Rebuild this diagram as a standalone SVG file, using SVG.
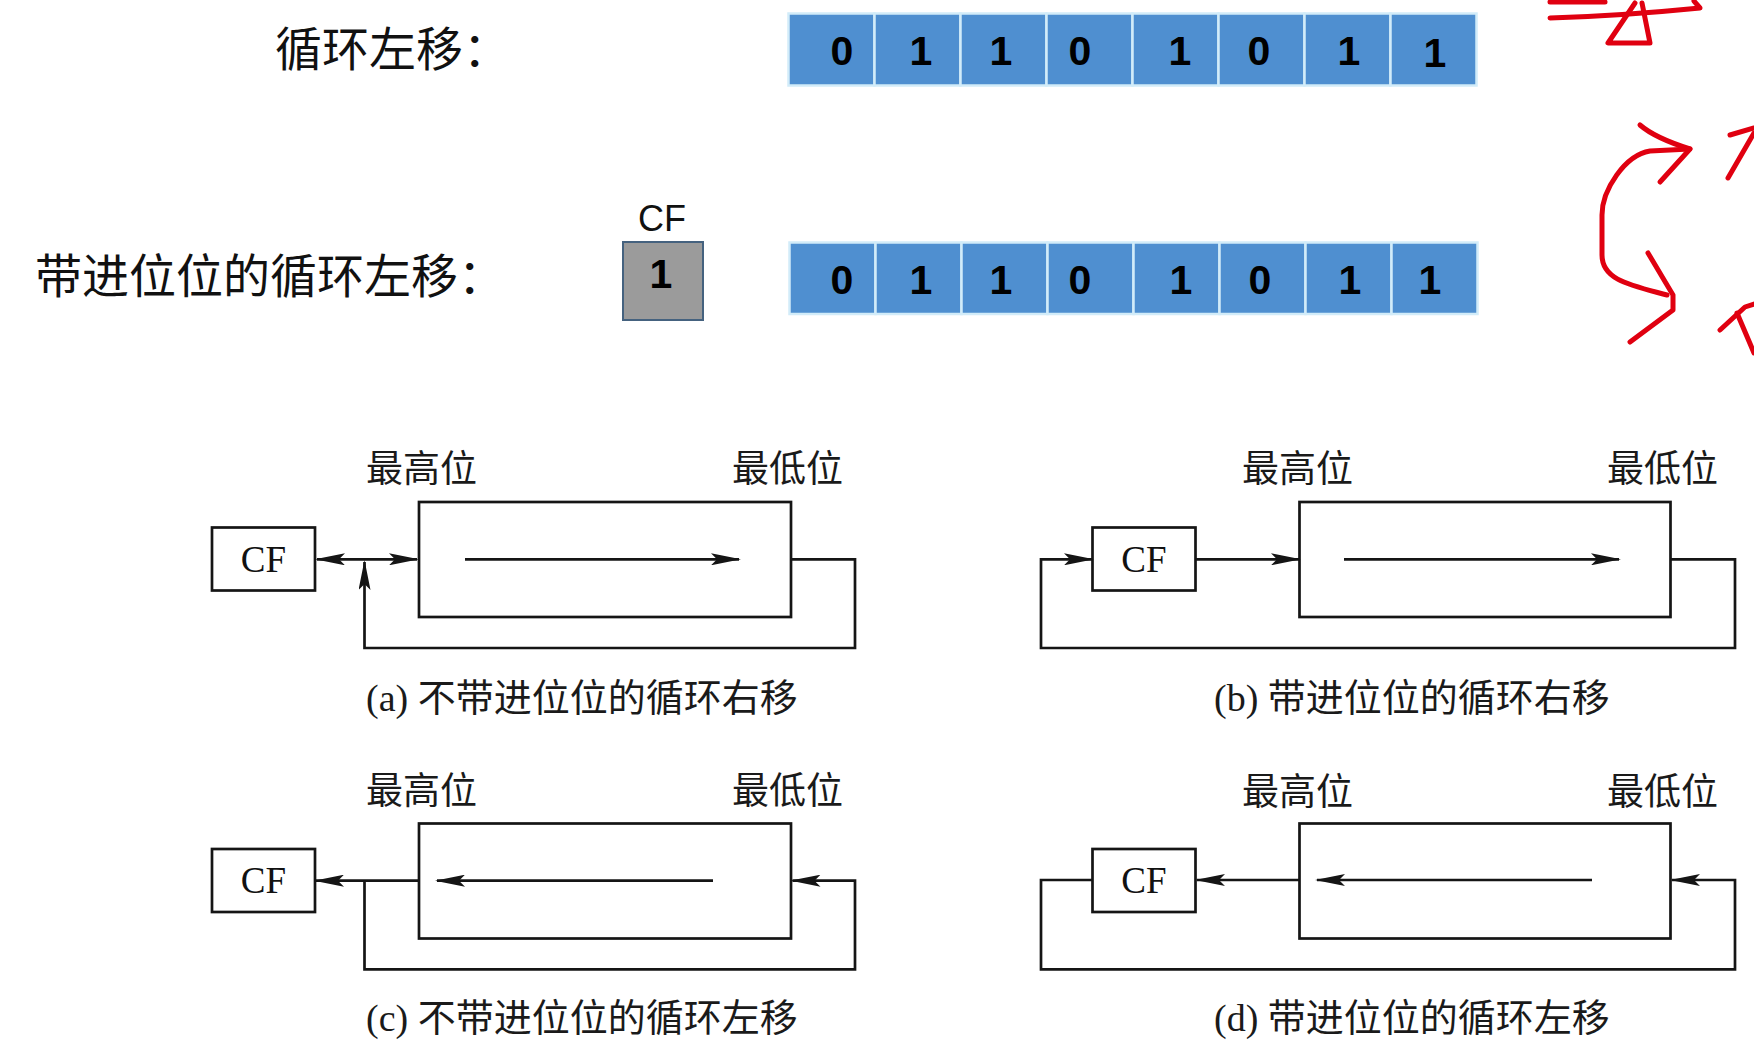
<svg xmlns="http://www.w3.org/2000/svg" width="1754" height="1048" viewBox="0 0 1754 1048">
<style>
  .lbl { font-family: "Noto Sans CJK SC", "Liberation Sans", sans-serif; font-size: 47px; fill: #111; }
  .cell { fill: #4F8FD0; stroke: #D2ECF9; stroke-width: 2.5; }
  .digit { font-family: "Liberation Sans", "Noto Sans", sans-serif; font-weight: bold; font-size: 41px; fill: #000; text-anchor: middle; }
  .box { fill: #fff; stroke: #151515; stroke-width: 2.7; }
  .cf { font-family: "Liberation Serif", serif; font-size: 37px; fill: #111; text-anchor: middle; }
  .cap { font-family: "Liberation Serif", "Noto Sans CJK SC", serif; font-size: 38px; fill: #1a1a1a; }
  .pos { font-family: "Noto Sans CJK SC", sans-serif; font-size: 37px; fill: #1a1a1a; }
  .wire { fill: none; stroke: #151515; stroke-width: 2.7; }
  .red { fill: none; stroke: #E00010; stroke-width: 5; stroke-linecap: round; stroke-linejoin: round; }
</style>
<defs>
  <marker id="ah" markerUnits="userSpaceOnUse" markerWidth="30" markerHeight="12" viewBox="0 0 30 12" refX="28" refY="6" orient="auto-start-reverse">
    <path d="M0,0 L30,6 L0,12 L6,6 Z" fill="#151515"/>
  </marker>
</defs>
<rect width="1754" height="1048" fill="#fff"/>

<g id="row1">
  <text class="lbl" x="275" y="66">循环左移：</text>
  <rect class="cell" x="788.5" y="13.5" width="86" height="72"/>
  <rect class="cell" x="874.5" y="13.5" width="86" height="72"/>
  <rect class="cell" x="960.5" y="13.5" width="86" height="72"/>
  <rect class="cell" x="1046.5" y="13.5" width="86" height="72"/>
  <rect class="cell" x="1132.5" y="13.5" width="86" height="72"/>
  <rect class="cell" x="1218.5" y="13.5" width="86" height="72"/>
  <rect class="cell" x="1304.5" y="13.5" width="86" height="72"/>
  <rect class="cell" x="1390.5" y="13.5" width="86" height="72"/>
  <text class="digit" x="842" y="64.5">0</text>
  <text class="digit" x="921" y="64.5">1</text>
  <text class="digit" x="1001" y="64.5">1</text>
  <text class="digit" x="1080" y="64.5">0</text>
  <text class="digit" x="1180" y="64.5">1</text>
  <text class="digit" x="1259" y="64.5">0</text>
  <text class="digit" x="1349" y="64.5">1</text>
  <text class="digit" x="1435" y="67">1</text>
</g>

<g id="row2">
  <text class="lbl" x="35" y="293">带进位位的循环左移：</text>
  <text x="662" y="231" font-family="Liberation Sans, sans-serif" font-size="36" fill="#111" text-anchor="middle">CF</text>
  <rect x="623" y="242" width="80" height="78" fill="#9B9B9B" stroke="#45627F" stroke-width="2"/>
  <text class="digit" x="661" y="288">1</text>
  <rect class="cell" x="789.5" y="242.5" width="86" height="71.5"/>
  <rect class="cell" x="875.5" y="242.5" width="86" height="71.5"/>
  <rect class="cell" x="961.5" y="242.5" width="86" height="71.5"/>
  <rect class="cell" x="1047.5" y="242.5" width="86" height="71.5"/>
  <rect class="cell" x="1133.5" y="242.5" width="86" height="71.5"/>
  <rect class="cell" x="1219.5" y="242.5" width="86" height="71.5"/>
  <rect class="cell" x="1305.5" y="242.5" width="86" height="71.5"/>
  <rect class="cell" x="1391.5" y="242.5" width="86" height="71.5"/>
  <text class="digit" x="842" y="294">0</text>
  <text class="digit" x="921" y="294">1</text>
  <text class="digit" x="1001" y="294">1</text>
  <text class="digit" x="1080" y="294">0</text>
  <text class="digit" x="1181" y="294">1</text>
  <text class="digit" x="1260" y="294">0</text>
  <text class="digit" x="1350" y="294">1</text>
  <text class="digit" x="1430" y="294">1</text>
</g>

<g id="annotations">
  <path class="red" d="M1550,2 L1605,2"/>
  <path class="red" d="M1550,18 Q1620,16 1700,8 L1694,1"/>
  <path class="red" d="M1635,3 L1608,43 L1650,43 L1642,3"/>
  <path class="red" d="M1667,295 C1630,285 1602,280 1602,255 L1602,215 C1602,190 1625,155 1650,151 L1690,149"/>
  <path class="red" d="M1640,125 Q1655,138 1690,149 L1660,182"/>
  <path class="red" d="M1648,253 L1673,295 L1673,310 L1630,342"/>
  <path class="red" d="M1730,135 L1754,128"/>
  <path class="red" d="M1754,133 L1728,178"/>
  <path class="red" d="M1720,330 L1745,307 L1754,304"/>
  <path class="red" d="M1737,313 L1754,353"/>
</g>

<g id="diagram-a">
  <text class="pos" x="366" y="482">最高位</text>
  <text class="pos" x="732" y="482">最低位</text>
  <g id="a-cf"><rect class="box" x="212" y="527.5" width="103" height="63"/><text class="cf" x="263.5" y="571.5">CF</text></g>
  <g id="a-reg"><rect class="box" x="419" y="502" width="372" height="115"/></g>
  <text class="cap" x="366" y="711">(a) 不带进位位的循环右移</text>
</g>

<g id="diagram-b">
  <text class="pos" x="1242" y="482">最高位</text>
  <text class="pos" x="1607" y="482">最低位</text>
  <g id="b-cf"><rect class="box" x="1092.5" y="527.5" width="103" height="63"/><text class="cf" x="1144" y="571.5">CF</text></g>
  <g id="b-reg"><rect class="box" x="1299.5" y="502" width="371" height="115"/></g>
  <text class="cap" x="1214" y="711">(b) 带进位位的循环右移</text>
</g>

<g id="diagram-c">
  <text class="pos" x="366" y="804">最高位</text>
  <text class="pos" x="732" y="804">最低位</text>
  <g id="c-cf"><rect class="box" x="212" y="849" width="103" height="63"/><text class="cf" x="263.5" y="893">CF</text></g>
  <g id="c-reg"><rect class="box" x="419" y="823.5" width="372" height="115"/></g>
  <text class="cap" x="366" y="1031">(c) 不带进位位的循环左移</text>
</g>

<g id="diagram-d">
  <text class="pos" x="1242" y="805">最高位</text>
  <text class="pos" x="1607" y="805">最低位</text>
  <g id="d-cf"><rect class="box" x="1092.5" y="849" width="103" height="63"/><text class="cf" x="1144" y="893">CF</text></g>
  <g id="d-reg"><rect class="box" x="1299.5" y="823.5" width="371" height="115"/></g>
  <text class="cap" x="1214" y="1031">(d) 带进位位的循环左移</text>
</g>

<g id="connectors">
  <!-- a -->
  <path class="wire" d="M317,559.3 L417,559.3" marker-start="url(#ah)" marker-end="url(#ah)"/>
  <path class="wire" d="M791,559.3 L855,559.3 L855,648 L364.5,648 L364.5,562" marker-end="url(#ah)"/>
  <path class="wire" d="M465,559.3 L739,559.3" marker-end="url(#ah)"/>
  <!-- b -->
  <path class="wire" d="M1670.5,559.3 L1735,559.3 L1735,648 L1041,648 L1041,559.3 L1092,559.3" marker-end="url(#ah)"/>
  <path class="wire" d="M1195.5,559.3 L1299,559.3" marker-end="url(#ah)"/>
  <path class="wire" d="M1344,559.3 L1619,559.3" marker-end="url(#ah)"/>
  <!-- c -->
  <path class="wire" d="M419,880.7 L316,880.7" marker-end="url(#ah)"/>
  <path class="wire" d="M364.5,880.7 L364.5,969.3 L855,969.3 L855,880.7 L792.5,880.7" marker-end="url(#ah)"/>
  <path class="wire" d="M713,880.7 L437,880.7" marker-end="url(#ah)"/>
  <!-- d -->
  <path class="wire" d="M1299.5,880 L1197,880" marker-end="url(#ah)"/>
  <path class="wire" d="M1092.5,880 L1041,880 L1041,969.3 L1735,969.3 L1735,880 L1672,880" marker-end="url(#ah)"/>
  <path class="wire" d="M1592,880 L1317,880" marker-end="url(#ah)"/>
</g>
</svg>
